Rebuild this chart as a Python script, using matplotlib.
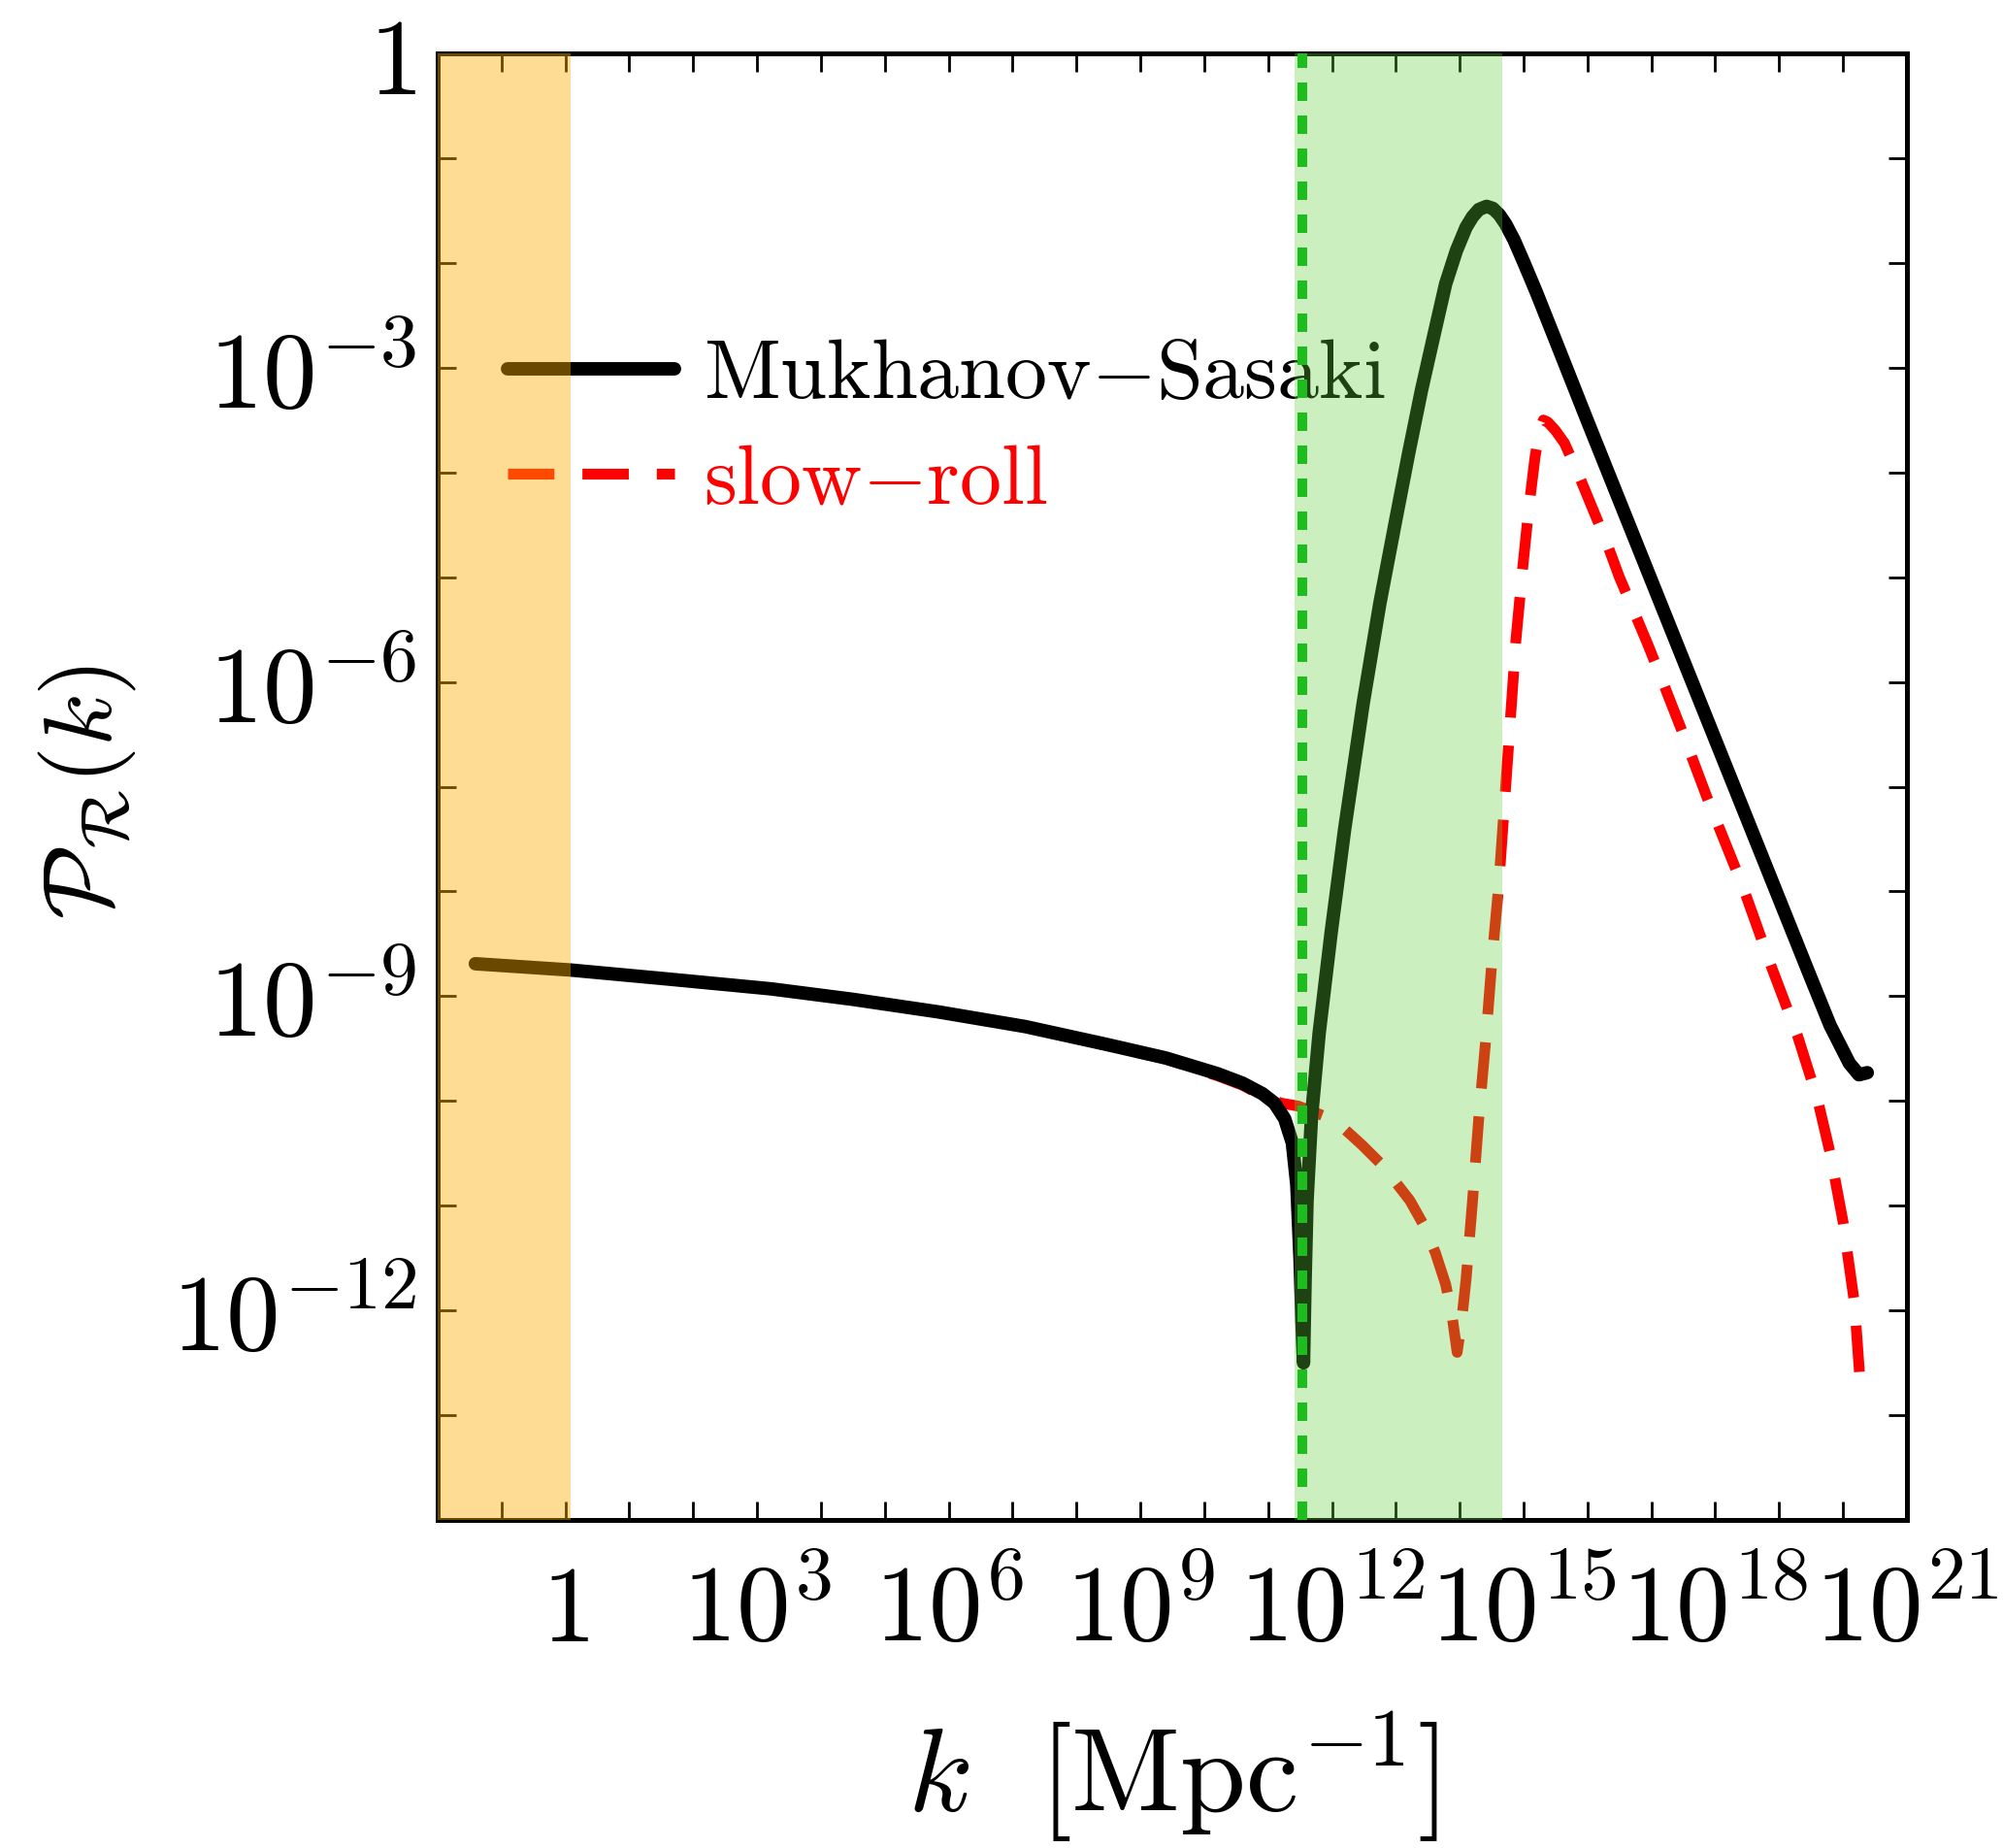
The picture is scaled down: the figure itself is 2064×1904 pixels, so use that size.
import numpy as np
import matplotlib
matplotlib.use("Agg")
import matplotlib.pyplot as plt

plt.rcParams["mathtext.fontset"] = "cm"
plt.rcParams["font.family"] = ["DejaVu Serif"]

# log10(k), log10(P)
ms_logk = [-1.41, 0.08, 1.5, 3.22, 4.5, 5.84, 7.2, 8.47, 9.4, 10.21, 10.6, 10.91,
           11.1, 11.26, 11.38, 11.45, 11.5, 11.53, 11.555, 11.58, 11.61, 11.68,
           11.8, 11.99, 12.2, 12.49, 12.75, 13.0, 13.2, 13.4, 13.6, 13.78, 13.95,
           14.1, 14.2, 14.3, 14.42, 14.52, 14.62, 14.72, 14.85, 15.0, 15.2, 15.5,
           16.0, 16.5, 17.0, 17.5, 18.0, 18.5, 19.0, 19.5, 19.8, 19.95, 20.1,
           20.25, 20.38]
ms_logp = [-8.69, -8.75, -8.83, -8.93, -9.03, -9.15, -9.29, -9.46, -9.59, -9.74,
           -9.83, -9.93, -10.02, -10.17, -10.4, -10.8, -11.5, -12.1, -12.5, -11.7,
           -10.95, -10.15, -9.35, -8.38, -7.4, -6.2, -5.25, -4.45, -3.82, -3.22,
           -2.68, -2.2, -1.88, -1.66, -1.56, -1.49, -1.46, -1.48, -1.54, -1.63,
           -1.78, -1.99, -2.28, -2.74, -3.51, -4.27, -5.03, -5.79, -6.55, -7.31,
           -8.07, -8.83, -9.28, -9.46, -9.64, -9.75, -9.73]

sr_logk = [-1.41, 0.08, 1.5, 3.22, 4.5, 5.84, 7.2, 8.47, 9.4, 10.21, 10.6, 10.91,
           11.2, 11.48, 11.86, 12.2, 12.47, 12.8, 13.22, 13.45, 13.62, 13.78, 13.88,
           13.96, 14.03, 14.1, 14.2, 14.3, 14.41, 14.51, 14.61, 14.76, 14.88, 14.98,
           15.08, 15.18, 15.25, 15.31, 15.38, 15.5, 15.64, 15.84, 16.09, 16.3,
           16.5, 16.73, 16.95, 17.16, 17.5, 17.87, 18.43, 18.88, 19.29, 19.6, 19.8,
           20.0, 20.18, 20.28]
sr_logp = [-8.69, -8.75, -8.83, -8.93, -9.03, -9.15, -9.29, -9.47, -9.6, -9.76,
           -9.85, -9.95, -10.02, -10.05, -10.14, -10.27, -10.42, -10.62, -10.95,
           -11.2, -11.45, -11.75, -12.05, -12.4, -12.1, -11.7, -10.96, -10.15,
           -9.4, -8.62, -7.95, -6.65, -5.6, -4.95, -4.35, -3.85, -3.6, -3.5,
           -3.52, -3.6, -3.72, -3.99, -4.36, -4.67, -5.0, -5.33, -5.65, -5.97,
           -6.5, -7.1, -7.95, -8.72, -9.38, -9.98, -10.5, -11.15, -11.93, -12.78]

cmb_logk = (-2.0, 0.08)        # orange band
pbh_logk = (11.41, 14.66)      # green band
transition_logk = 11.53        # green dotted line

x_tick_exps = list(range(-2, 22))
x_label_exps = [0, 3, 6, 9, 12, 15, 18, 21]
y_tick_exps = list(range(-14, 1))
y_label_exps = [0, -3, -6, -9, -12]

labels = ["$\\mathrm{Mukhanov{-}Sasaki}$", "$\\mathrm{slow{-}roll}$"]


def exp_label(e):
    if e == 0:
        return "$1$"
    return "$10^{%d}$" % e


fig = plt.figure(figsize=(10.32, 9.52), dpi=200)
ax = fig.add_axes([0.2185, 0.1775, 0.7335, 0.7936])

ax.plot(np.power(10.0, ms_logk), np.power(10.0, ms_logp), color="black", lw=5.0,
        solid_joinstyle="round", solid_capstyle="round", zorder=2, label=labels[0])
ax.plot(np.power(10.0, sr_logk), np.power(10.0, sr_logp), color="red", lw=4.0,
        linestyle=(0, (4.3, 2.6)), dash_capstyle="butt", zorder=1.8, label=labels[1])

ax.axvspan(10 ** cmb_logk[0], 10 ** cmb_logk[1], color=(1.0, 0.68, 0.0),
           alpha=0.42, lw=0, zorder=3)
ax.axvspan(10 ** pbh_logk[0], 10 ** pbh_logk[1], color=(0.38, 0.81, 0.24),
           alpha=0.32, lw=0, zorder=3)
ax.axvline(10 ** transition_logk, color="#1cbd1c", lw=3.6,
           linestyle=(0, (1.9, 1.5)), zorder=4)

ax.set_xscale("log")
ax.set_yscale("log")
ax.set_xlim(1e-2, 1e21)
ax.set_ylim(1e-14, 1)

ax.set_xticks([10.0 ** e for e in x_tick_exps])
ax.set_xticklabels([exp_label(e) if e in x_label_exps else "" for e in x_tick_exps])
ax.set_yticks([10.0 ** e for e in y_tick_exps])
ax.set_yticklabels([exp_label(e) if e in y_label_exps else "" for e in y_tick_exps])
ax.minorticks_off()
ax.tick_params(which="major", direction="in", length=7, width=1.0,
               top=True, right=True, labelsize=40)
ax.tick_params(axis="x", pad=45)
ax.tick_params(axis="y", pad=8)
for t in ax.get_xticklabels():
    t.set_va("baseline")
for s in ax.spines.values():
    s.set_linewidth(1.8)

leg = ax.legend(loc="upper left", bbox_to_anchor=(0.0476, 0.808), frameon=False,
                fontsize=31, handlelength=2.0, handletextpad=0.35,
                labelspacing=0.29, borderpad=0, borderaxespad=0,
                labelcolor=["black", "red"])
leg.set_zorder(1.5)

fig.text(1208 / 2064, 1 - 1830 / 1904, "$k\\ \\ [\\mathrm{Mpc}^{-1}]$",
         fontsize=44, ha="center", va="center")
fig.text(90 / 2064, 1 - 816 / 1904, "$\\mathcal{P}_\\mathcal{R}(k)$",
         fontsize=36, ha="center", va="center", rotation=90)

fig.savefig("out.png", dpi=200)
